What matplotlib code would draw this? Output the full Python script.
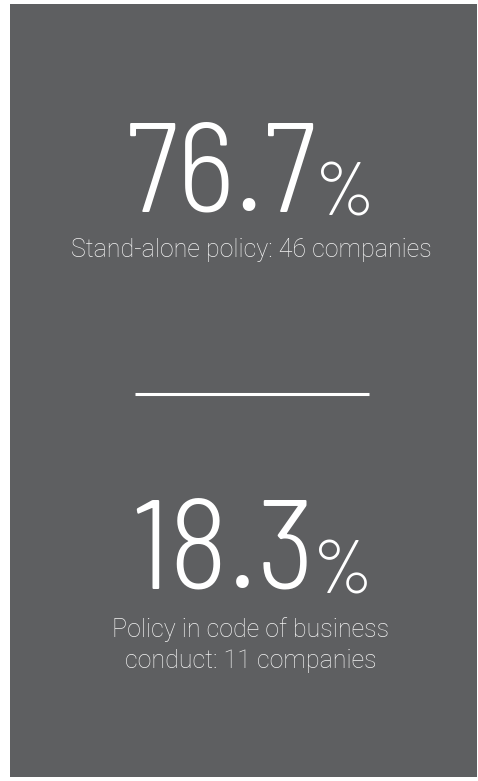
import matplotlib
matplotlib.use("Agg")
import matplotlib.pyplot as plt
from matplotlib.patches import Rectangle

# figures shown on the card
values = ["76.7", "18.3"]
labels = ["Stand-alone policy: 46 companies",
          "Policy in code of business\nconduct: 11 companies"]

BG = "#5e5f61"
W, H = 478, 781

fig = plt.figure(figsize=(W / 100, H / 100), dpi=100)
ax = fig.add_axes([0, 0, 1, 1])
ax.set_xlim(0, W)
ax.set_ylim(H, 0)
ax.axis("off")

ax.add_patch(Rectangle((10, 4), 467, 773, color=BG, lw=0))

num_font = dict(family="Barlow Semi Condensed", weight=300, color="white")
pct_font = dict(family="Barlow Condensed", weight=300, color="white")
lab_font = dict(family=["Roboto", "DejaVu Sans"], weight="light", color="#f2f2f2")

# (number right edge, baseline) for each block
pos = [(317, 212), (315, 590)]
for (x, y), v in zip(pos, values):
    ax.text(x, y, v, fontsize=91, ha="right", va="baseline", **num_font)
    ax.text(x - 2, y + 3, "%", fontsize=55, ha="left", va="baseline", **pct_font)

lines = [labels[0]] + labels[1].split("\n")
for y, s in zip([257, 637, 668], lines):
    ax.text(251, y, s, fontsize=18, ha="center", va="baseline", **lab_font)

# divider
ax.plot([135, 369], [394, 394], color="white", lw=2.2, solid_capstyle="butt")

fig.savefig("out.png", dpi=100, facecolor="white")
